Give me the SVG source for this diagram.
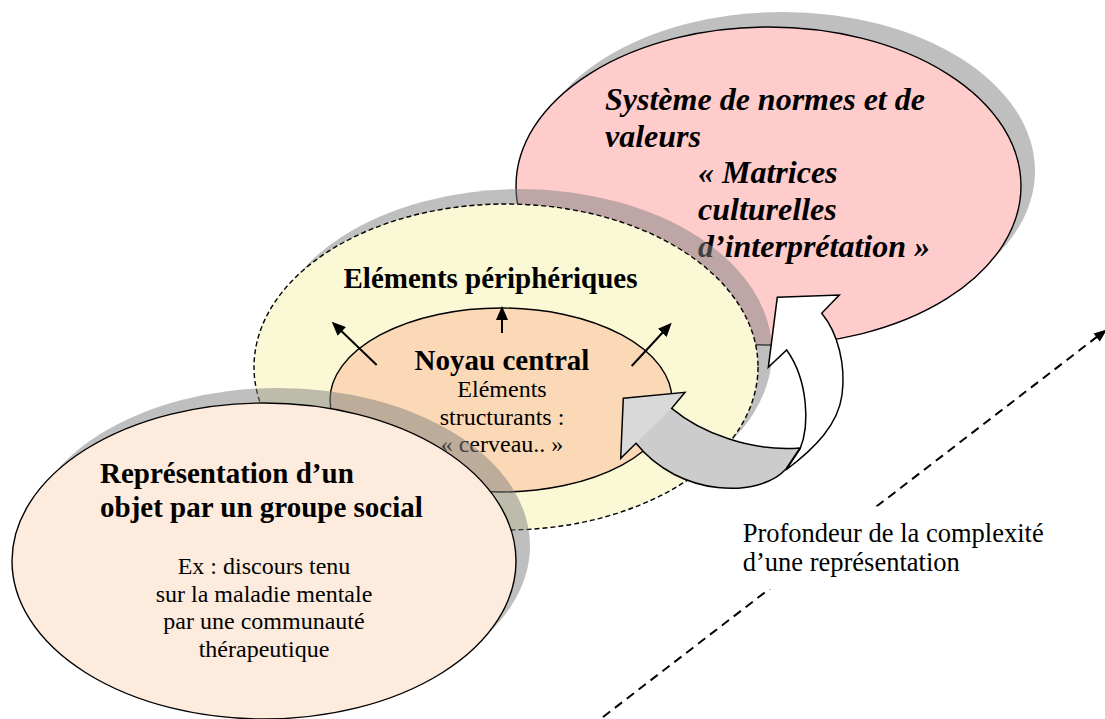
<svg xmlns="http://www.w3.org/2000/svg" width="1105" height="719" viewBox="0 0 1105 719">
<style>
.t{font-family:"Liberation Serif","Times New Roman",serif;fill:#000}
.b{font-weight:bold}
.bi{font-weight:bold;font-style:italic}
.big{font-size:29px}
.sm{font-size:24px}
.sh{fill:#808080;fill-opacity:.5;stroke:none}
.ol{stroke:#000;stroke-width:1.4}
.ar{stroke:#000;stroke-width:2;fill:none;marker-end:url(#ah)}
.blk{stroke:#000;stroke-width:1.5;stroke-linejoin:miter}
</style>
<defs>
<marker id="ah" viewBox="0 0 14 12" refX="1" refY="6" markerWidth="14" markerHeight="12" markerUnits="userSpaceOnUse" orient="auto">
<path d="M0,0 L14,6 L0,12 z" fill="#000"/>
</marker>
</defs>
<rect width="1105" height="719" fill="#fff"/>

<g id="node-normes">
<ellipse class="sh" cx="782.5" cy="171" rx="252.5" ry="159"/>
<ellipse class="ol" cx="768.5" cy="186" rx="252.5" ry="159" fill="#FFCCCC"/>
<g class="t bi" font-size="32">
<text x="605" y="110">Système de normes et de</text>
<text x="605" y="146.7">valeurs</text>
<text x="698" y="183.3">« Matrices</text>
<text x="698" y="220">culturelles</text>
<text x="698" y="256.7">d’interprétation »</text>
</g>
</g>

<g id="node-peripheriques">
<ellipse class="sh" cx="520" cy="352" rx="252" ry="163"/>
<ellipse cx="506" cy="367" rx="252" ry="163" fill="#FAF8D5" stroke="#000" stroke-width="1.4" stroke-dasharray="5 3"/>
<text class="t b big" x="343.5" y="288.3">Eléments périphériques</text>
</g>

<g id="node-noyau">
<ellipse class="ol" cx="501" cy="400" rx="171" ry="92" fill="#FCD9B6"/>
<text class="t b big" x="502" y="369.5" text-anchor="middle">Noyau central</text>
<g class="t sm" text-anchor="middle">
<text x="502" y="396.7">Eléments</text>
<text x="502" y="425">structurants :</text>
<text x="502" y="451.7">« cerveau.. »</text>
</g>
</g>

<g id="node-representation">
<ellipse class="sh" cx="278" cy="546" rx="252" ry="158"/>
<ellipse class="ol" cx="264" cy="561" rx="252" ry="158" fill="#FDECDE"/>
<g class="t b big">
<text x="100" y="482.7">Représentation d’un</text>
<text x="100" y="516.7">objet par un groupe social</text>
</g>
<g class="t sm" text-anchor="middle">
<text x="264" y="574">Ex : discours tenu</text>
<text x="264" y="601.7">sur la maladie mentale</text>
<text x="264" y="629.3">par une communauté</text>
<text x="264" y="656.7">thérapeutique</text>
</g>
</g>

<g id="connectors">
<line class="ar" x1="376.7" y1="365" x2="341.1" y2="330.7"/>
<line class="ar" x1="502" y1="333" x2="502" y2="319"/>
<line class="ar" x1="631.7" y1="366" x2="662.9" y2="332.2"/>
<path class="blk" fill="#fff" d="M777.3,297.3 L839.3,295 L821.7,313.3 C838,333 846,365 842,395 C838,425 815,448 786,470 L800,449 C810,425 808,380 786.7,350 L768.3,367.3 Z"/>
<path fill="#CCCCCC" d="M623.3,398.3 L685,392.3 L671.7,408.3 C700,432 750,452 800,448 L786,469 C760,498 680,498 636,443.3 L620.7,458.3 Z"/>
<path fill="#D9D9D9" d="M623.3,398.3 L685,392.3 L671.7,408.3 L636,443.3 L620.7,458.3 Z"/>
<path class="blk" fill="none" d="M623.3,398.3 L685,392.3 L671.7,408.3 C700,432 750,452 800,448 L786,469 C760,498 680,498 636,443.3 L620.7,458.3 Z"/>
<line x1="603" y1="717" x2="1098" y2="336" stroke="#000" stroke-width="2" stroke-dasharray="9 6"/>
<path d="M1107,329.5 L1099.8,341.4 L1093.6,333.4 Z" fill="#000"/>
</g>

<g id="label-profondeur">
<rect x="735" y="506.5" width="320" height="82.5" fill="#fff"/>
<g class="t" font-size="26.5">
<text x="742.7" y="541.7">Profondeur de la complexité</text>
<text x="742.7" y="570.7">d’une représentation</text>
</g>
</g>
</svg>
